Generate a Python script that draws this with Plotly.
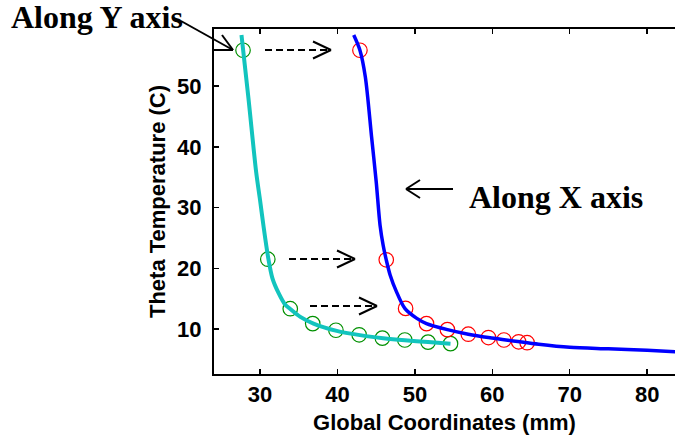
import plotly.graph_objects as go

# ---- data ----
y_axis_pts_x = [27.8, 31.0, 33.9, 36.8, 39.8, 42.8, 45.8, 48.7, 51.7, 54.6]
y_axis_pts_t = [55.9, 21.5, 13.35, 10.9, 9.8, 9.05, 8.5, 8.2, 7.85, 7.6]

x_axis_pts_x = [42.9, 46.3, 48.8, 51.5, 54.2, 56.9, 59.5, 61.5, 63.4, 64.5]
x_axis_pts_t = [55.9, 21.4, 13.4, 10.9, 9.9, 9.15, 8.6, 8.2, 7.9, 7.75]

y_curve_x = [27.6, 28.5, 29.5, 30.0, 30.43, 31.07, 31.6, 32.4, 33.2, 33.9, 35.2, 36.9,
             39.9, 42.9, 45.9, 48.7, 51.7, 54.6]
y_curve_t = [58.4, 48.0, 35.8, 31.2, 27.1, 21.6, 18.35, 15.9, 14.1, 13.3, 12.0, 10.9,
             9.7, 9.0, 8.5, 8.15, 7.85, 7.6]

x_curve_x = [42.1, 42.9, 43.6, 44.4, 45.0, 45.5, 45.9, 46.3, 46.8, 47.6, 48.7, 50.2, 51.5,
             54.2, 56.9, 59.5, 63.0, 66.0, 70.0, 75.0, 80.0, 84.0]
x_curve_t = [58.4, 55.9, 51.5, 41.7, 34.3, 27.1, 23.8, 21.4, 18.9, 16.2, 13.4, 11.8, 10.9,
             9.9, 9.15, 8.6, 8.0, 7.5, 7.0, 6.75, 6.5, 6.25]

x_ticks = [30, 40, 50, 60, 70, 80]
y_ticks = [10, 20, 30, 40, 50]

# ---- layout geometry ----
W, H = 675, 442
L, R, T, B = 214, 0, 29, 68


def px(X):
    return (X - L) / (W - L - R)


def py(Y):
    return (H - B - Y) / (H - T - B)


CYAN = "#12C4BE"
BLUE = "#0000FF"

fig = go.Figure()
fig.add_trace(go.Scatter(x=y_axis_pts_x, y=y_axis_pts_t, mode="markers",
                         marker=dict(symbol="circle-open", size=14.5, color="#009000",
                                     line=dict(width=1.2, color="#009000")),
                         showlegend=False, hoverinfo="skip"))
fig.add_trace(go.Scatter(x=x_axis_pts_x, y=x_axis_pts_t, mode="markers",
                         marker=dict(symbol="circle-open", size=14.5, color="#FF0000",
                                     line=dict(width=1.2, color="#FF0000")),
                         showlegend=False, hoverinfo="skip"))
fig.add_trace(go.Scatter(x=y_curve_x, y=y_curve_t, mode="lines",
                         line=dict(color=CYAN, width=4, shape="spline", smoothing=0.8),
                         showlegend=False, hoverinfo="skip"))
fig.add_trace(go.Scatter(x=x_curve_x, y=x_curve_t, mode="lines",
                         line=dict(color=BLUE, width=3.5, shape="spline", smoothing=0.8),
                         showlegend=False, hoverinfo="skip"))

shapes = []


def seg(x0, y0, x1, y1, dash="solid", w=2):
    shapes.append(dict(type="line", xref="paper", yref="paper",
                       x0=px(x0), y0=py(y0), x1=px(x1), y1=py(y1),
                       line=dict(color="black", width=w, dash=dash)))


# "Along Y axis" arrow
seg(181, 21, 233, 50)
seg(233, 50, 214, 50)
seg(233, 50, 222, 35)
# dashed arrows
for (x0, x1, yy) in [(265, 331, 50), (289, 355, 259), (310, 377, 306)]:
    seg(x0, yy, x1 - 2, yy, dash="7px,4px")
    seg(x1, yy, x1 - 18, yy - 8.5)
    seg(x1, yy, x1 - 18, yy + 8.5)
# "Along X axis" arrow
seg(406, 189, 453, 189)
seg(406, 189, 420, 180)
seg(406, 189, 420, 198)

annotations = [
    dict(text="Along Y axis", xref="paper", yref="paper", x=px(9), y=py(17),
         xanchor="left", yanchor="middle", showarrow=False,
         font=dict(family="Liberation Serif", size=32, color="black", weight="bold")),
    dict(text="Along X axis", xref="paper", yref="paper", x=px(467), y=py(197),
         xanchor="left", yanchor="middle", showarrow=False,
         font=dict(family="Liberation Serif", size=32, color="black", weight="bold")),
]

axis_font = dict(family="Liberation Sans", size=22, color="black", weight="bold")

fig.update_layout(
    width=W, height=H, autosize=False,
    margin=dict(l=L, r=R, t=T, b=B, pad=0),
    paper_bgcolor="white", plot_bgcolor="white",
    shapes=shapes, annotations=annotations,
    xaxis=dict(range=[24.05, 83.6], tickvals=x_ticks, ticks="inside", ticklen=5,
               tickwidth=1.5, tickcolor="black", showline=True, linecolor="black",
               linewidth=2, mirror="allticks", showgrid=False, zeroline=False,
               tickfont=axis_font, automargin=False,
               title=dict(text="Global Coordinates (mm)", font=axis_font, standoff=8)),
    yaxis=dict(range=[2.6, 59.4], tickvals=y_ticks, ticks="inside", ticklen=5,
               tickwidth=1.5, tickcolor="black", showline=True, linecolor="black",
               linewidth=2, showgrid=False, zeroline=False, automargin=False,
               tickfont=axis_font, ticklabelstandoff=6,
               title=dict(text="Theta Temperature (C)", font=axis_font, standoff=5)),
)

fig.write_html("out.html", config={"displayModeBar": False, "staticPlot": True},
               post_script="document.body.style.margin='0px';document.body.style.overflow='hidden';")
